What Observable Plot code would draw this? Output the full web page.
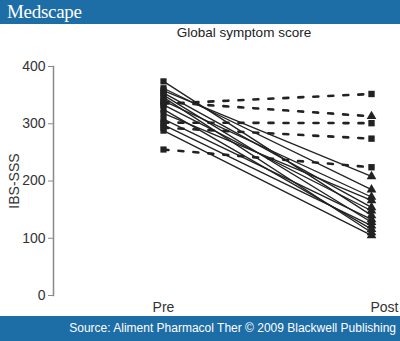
<!DOCTYPE html>
<html><head><meta charset="utf-8">
<script src="https://cdn.jsdelivr.net/npm/d3@7"></script>
<script src="https://cdn.jsdelivr.net/npm/@observablehq/plot@0.6"></script>
<style>
body{margin:0;width:400px;height:341px;overflow:hidden;background:#fff;font-family:"Liberation Sans",Arial,sans-serif;}
#hdr{height:24px;background:#1d6da6;color:#fff;font-family:"Liberation Serif","DejaVu Serif",serif;font-size:19px;line-height:24px;padding-left:7px;letter-spacing:-0.3px;}
#title{height:18px;line-height:18px;font-size:13.5px;color:#222;text-align:center;padding-left:88px;}
#chart svg{display:block;}
#ftr{height:25px;background:#1d6da6;color:#fff;font-size:12px;line-height:25px;text-align:right;padding-right:4px;}
</style></head>
<body>
<div id="hdr">Medscape</div>
<div id="title">Global symptom score</div>
<div id="chart"></div>
<div id="ftr">Source: Aliment Pharmacol Ther © 2009 Blackwell Publishing</div>
<script>
const times = ["Pre", "Post"];
const yTicks = [0, 100, 200, 300, 400];
const solidPre  = [374, 362, 358, 354, 350, 346, 340, 333, 325, 318, 308, 298, 288];
const solidPost = [140, 185, 208, 154, 128, 110, 172, 148, 116, 166, 133, 122, 105];
const dashedPre  = [335, 338, 302, 293, 255];
const dashedPost = [352, 313, 301, 274, 224];
const dashedPostSymbol = ["square", "triangle", "square", "square", "square"];

const solidRows = [], dashedRows = [], preDots = [], postDots = [];
solidPre.forEach((v, i) => {
  solidRows.push({id: "s" + i, time: "Pre", value: v});
  solidRows.push({id: "s" + i, time: "Post", value: solidPost[i]});
  preDots.push({time: "Pre", value: v});
  postDots.push({time: "Post", value: solidPost[i], symbol: "triangle"});
});
dashedPre.forEach((v, i) => {
  dashedRows.push({id: "d" + i, time: "Pre", value: v});
  dashedRows.push({id: "d" + i, time: "Post", value: dashedPost[i]});
  preDots.push({time: "Pre", value: v});
  postDots.push({time: "Post", value: dashedPost[i], symbol: dashedPostSymbol[i]});
});

const chart = Plot.plot({
  width: 400,
  height: 274,
  marginTop: 24,
  marginBottom: 21,
  marginLeft: 53,
  marginRight: 29,
  style: {fontFamily: "Liberation Sans, Arial, sans-serif", fontSize: "14px", color: "#333"},
  x: {type: "point", domain: times, range: [163, 371], padding: 0},
  y: {domain: [0, 400], label: "IBS-SSS", labelArrow: false},
  marks: [
    Plot.frame({anchor: "left", stroke: "#8a8a8a", strokeWidth: 1.5}),
    Plot.axisY({ticks: yTicks, tickSize: 5, tickPadding: 3, stroke: "#8a8a8a", label: "IBS-SSS", labelArrow: false, labelAnchor: "center", labelOffset: 44, fontSize: 14}),
    Plot.axisX({ticks: ["Pre"], tickSize: 0, tickPadding: 7, label: null, fontSize: 14}),
    Plot.axisX({ticks: ["Post"], tickSize: 0, tickPadding: 7, label: null, fontSize: 14, dx: 13}),
    Plot.line(dashedRows, {x: "time", y: "value", z: "id", stroke: "#222", strokeWidth: 2.6, strokeDasharray: "5,10"}),
    Plot.line(solidRows, {x: "time", y: "value", z: "id", stroke: "#222", strokeWidth: 1.3}),
    Plot.dot(preDots, {x: "time", y: "value", symbol: "square", r: 3.5, fill: "#222", stroke: "none"}),
    Plot.dot(postDots, {x: "time", y: "value", symbol: "symbol", r: 3.6, fill: "#222", stroke: "none"})
  ]
});
document.getElementById("chart").appendChild(chart);
</script>
</body></html>
